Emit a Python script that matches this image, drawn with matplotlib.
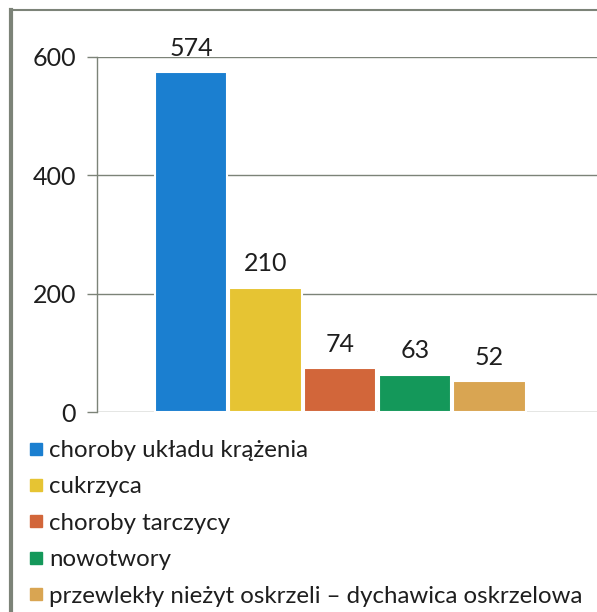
import matplotlib
matplotlib.use("Agg")
import matplotlib.pyplot as plt
from matplotlib.lines import Line2D

# Data
categories = ["choroby układu krążenia", "cukrzyca", "choroby tarczycy",
              "nowotwory", "przewlekły nieżyt oskrzeli – dychawica oskrzelowa"]
values = [574, 210, 74, 63, 52]
colors = ["#1b7fd0", "#e6c433", "#d2663a", "#14985a", "#d9a552"]
yticks = [0, 200, 400, 600]

plt.rcParams["font.family"] = ["Lato", "DejaVu Sans"]
text_col = "#1e1e1e"
line_col = "#7c8378"

fig = plt.figure(figsize=(5.97, 6.12), dpi=100)
ax = fig.add_axes([97/597, 1-412/612, 1-97/597, (412-57)/612])

x = range(len(values))
ax.bar(x, values, width=0.97, color=colors, edgecolor="white", linewidth=1.5, zorder=3)

for xi, v in zip(x, values):
    ax.annotate(str(v), (xi, v), xytext=(0, 9), textcoords="offset points",
                ha="center", va="bottom", fontsize=18, color=text_col,
                annotation_clip=False)

ax.set_xlim(-1.26, 5.44)
ax.set_ylim(0, 600)
ax.set_yticks(yticks)
ax.set_yticklabels([str(t) for t in yticks], fontsize=18, color=text_col)
ax.set_xticks([])
ax.tick_params(axis="y", length=7, width=1, color=line_col, pad=8)
ax.grid(axis="y", color=line_col, linewidth=1, zorder=0)
for s in ["top", "right", "bottom"]:
    ax.spines[s].set_visible(False)
ax.spines["left"].set_color(line_col)
ax.spines["left"].set_linewidth(1)

# legend
handles = [Line2D([], [], marker="s", linestyle="none", markersize=8,
                  markerfacecolor=c, markeredgecolor=c) for c in colors]
fig.legend(handles, categories, loc="upper left", bbox_to_anchor=(29/597, 1-440/612),
           frameon=False, fontsize=17.3, labelspacing=0.64, handlelength=0.6,
           handletextpad=0.25, borderaxespad=0, borderpad=0, labelcolor=text_col)

# page frame lines
fig.add_artist(Line2D([11/597, 11/597], [0, 1-10/612], transform=fig.transFigure,
                      color=line_col, linewidth=3))
fig.add_artist(Line2D([11/597, 1], [1-10/612, 1-10/612], transform=fig.transFigure,
                      color=line_col, linewidth=1.5))

fig.savefig("out.png", dpi=100)
